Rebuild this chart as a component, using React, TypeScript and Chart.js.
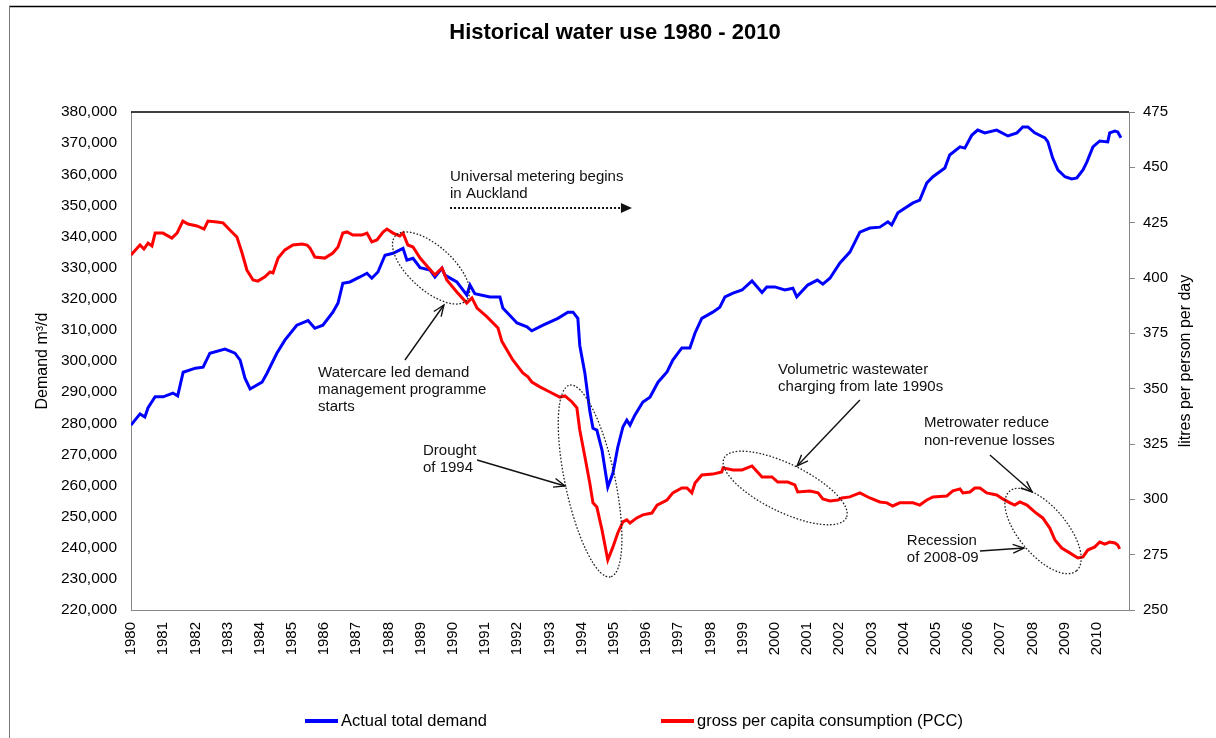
import React, { useEffect, useRef } from 'react';
import { Chart, registerables } from 'chart.js';

Chart.register(...registerables);

const FONT = '"Liberation Sans", Arial, Helvetica, sans-serif';

// ---- data ----
const xTickLabels = [
  '1980', '1981', '1982', '1983', '1984', '1985', '1986', '1987', '1988', '1989',
  '1990', '1991', '1992', '1993', '1994', '1995', '1996', '1997', '1998', '1999',
  '2000', '2001', '2002', '2003', '2004', '2005', '2006', '2007', '2008', '2009', '2010',
];

const demandYears = [
  1980.00, 1980.28, 1980.43, 1980.53, 1980.75, 1981.00, 1981.30, 1981.45, 1981.62, 1982.00,
  1982.24, 1982.45, 1982.92, 1983.23, 1983.39, 1983.54, 1983.70, 1984.07, 1984.22, 1984.53,
  1984.78, 1985.15, 1985.50, 1985.71, 1985.96, 1986.27, 1986.43, 1986.58, 1986.80, 1987.11,
  1987.33, 1987.48, 1987.67, 1987.89, 1988.14, 1988.45, 1988.57, 1988.76, 1988.98, 1989.29,
  1989.44, 1989.66, 1989.75, 1990.12, 1990.43, 1990.53, 1990.68, 1991.15, 1991.46, 1991.55,
  1991.99, 1992.30, 1992.45, 1992.80, 1993.26, 1993.57, 1993.73, 1993.88, 1993.94, 1994.10,
  1994.25, 1994.35, 1994.47, 1994.63, 1994.81, 1994.97, 1995.12, 1995.28, 1995.40, 1995.50,
  1995.65, 1995.90, 1996.12, 1996.37, 1996.65, 1996.83, 1997.11, 1997.36, 1997.52, 1997.73,
  1998.07, 1998.29, 1998.45, 1998.70, 1998.98, 1999.29, 1999.60, 1999.75, 2000.00, 2000.31,
  2000.56, 2000.68, 2001.02, 2001.32, 2001.49, 2001.71, 2002.02, 2002.33, 2002.64, 2002.95,
  2003.26, 2003.51, 2003.63, 2003.82, 2004.29, 2004.50, 2004.72, 2004.91, 2005.28, 2005.43,
  2005.75, 2005.90, 2006.12, 2006.30, 2006.52, 2006.89, 2007.24, 2007.52, 2007.70, 2007.86,
  2008.07, 2008.39, 2008.48, 2008.63, 2008.79, 2009.01, 2009.22, 2009.38, 2009.57, 2009.69,
  2009.88, 2010.09, 2010.34, 2010.40, 2010.56, 2010.65, 2010.75,
];

const demandValues = [
  279400, 283000, 282000, 285000, 288500, 288500, 289700, 288800, 296400, 297700,
  298000, 302500, 303800, 302500, 300300, 294500, 291000, 293200, 296000, 302500,
  306700, 311500, 313000, 310500, 311500, 315700, 318600, 325000, 325400, 327000,
  328200, 326600, 328600, 334000, 334600, 336200, 332400, 333000, 330000, 329200,
  327000, 329800, 327600, 325400, 321200, 324400, 321600, 320600, 320600, 317000,
  312200, 311000, 309700, 311500, 313700, 315700, 315700, 313700, 305000, 296000,
  284000, 278400, 277800, 271400, 259500, 264000, 272300, 278800, 281000, 279400,
  282600, 286800, 288400, 293200, 296500, 300300, 304200, 304200, 309000, 313700,
  315700, 317300, 320600, 321800, 322800, 325700, 322000, 323800, 323800, 322800,
  323400, 320600, 324400, 326000, 324700, 326600, 331500, 335000, 341400, 342700,
  343000, 344700, 343700, 347600, 350800, 351700, 357200, 359200, 362000, 366200,
  368800, 368400, 372600, 374200, 373300, 374200, 372300, 373300, 375200, 375200,
  373300, 371700, 370400, 365200, 361400, 359200, 358500, 358800, 361400, 363900,
  368800, 370700, 370400, 373300, 373900, 373600, 371700,
];

const pccYears = [
  1980.00, 1980.28, 1980.40, 1980.53, 1980.65, 1980.75, 1980.99, 1981.27, 1981.43, 1981.61,
  1981.77, 1982.05, 1982.27, 1982.39, 1982.67, 1982.86, 1983.07, 1983.29, 1983.45, 1983.60,
  1983.79, 1983.94, 1984.16, 1984.32, 1984.41, 1984.57, 1984.78, 1985.03, 1985.31, 1985.47,
  1985.56, 1985.71, 1986.02, 1986.27, 1986.43, 1986.58, 1986.71, 1986.89, 1987.17, 1987.33,
  1987.48, 1987.64, 1987.83, 1987.95, 1988.14, 1988.35, 1988.45, 1988.60, 1988.76, 1988.98,
  1989.22, 1989.44, 1989.66, 1989.81, 1990.12, 1990.43, 1990.59, 1990.75, 1991.06, 1991.40,
  1991.52, 1991.86, 1992.17, 1992.33, 1992.45, 1992.70, 1993.01, 1993.32, 1993.48, 1993.70,
  1993.85, 1993.94, 1994.10, 1994.25, 1994.35, 1994.47, 1994.63, 1994.81, 1994.97, 1995.12,
  1995.28, 1995.40, 1995.50, 1995.71, 1995.90, 1996.18, 1996.34, 1996.65, 1996.83, 1997.11,
  1997.27, 1997.42, 1997.52, 1997.73, 1998.07, 1998.35, 1998.39, 1998.70, 1998.98, 1999.29,
  1999.60, 1999.91, 2000.09, 2000.40, 2000.62, 2000.71, 2001.09, 2001.34, 2001.49, 2001.71,
  2001.96, 2002.08, 2002.33, 2002.64, 2002.95, 2003.26, 2003.48, 2003.66, 2003.88, 2004.29,
  2004.50, 2004.72, 2004.91, 2005.34, 2005.53, 2005.75, 2005.84, 2006.06, 2006.21, 2006.37,
  2006.58, 2006.89, 2007.08, 2007.30, 2007.45, 2007.61, 2007.83, 2008.07, 2008.32, 2008.54,
  2008.70, 2008.91, 2009.16, 2009.41, 2009.57, 2009.72, 2009.94, 2010.09, 2010.25, 2010.40,
  2010.56, 2010.65, 2010.71,
];

const pccValues = [
  410.4, 414.9, 413.1, 415.8, 414.5, 420.3, 420.3, 418.0, 420.3, 425.7,
  424.4, 423.5, 422.1, 425.7, 425.3, 424.9, 421.7, 418.5, 411.3, 403.6,
  399.1, 398.6, 400.5, 402.7, 402.3, 409.0, 412.7, 414.9, 415.4, 414.9,
  413.5, 409.5, 409.0, 411.3, 414.0, 420.3, 420.8, 419.4, 419.4, 420.3,
  416.3, 417.2, 420.8, 422.1, 420.3, 419.0, 420.3, 414.9, 414.0, 409.0,
  405.0, 401.4, 404.5, 399.1, 393.7, 388.7, 391.0, 386.4, 382.4, 377.4,
  371.4, 363.0, 357.1, 355.3, 353.0, 350.8, 348.5, 346.2, 346.7, 344.0,
  341.3, 331.3, 319.1, 307.4, 298.4, 296.5, 286.2, 272.6, 278.5, 284.8,
  289.8, 290.7, 289.3, 291.6, 293.0, 293.8, 297.4, 299.7, 302.9, 305.1,
  305.1, 302.9, 307.4, 311.0, 311.4, 312.4, 314.2, 313.3, 313.3, 315.1,
  310.1, 310.1, 307.8, 307.8, 306.5, 303.3, 303.8, 302.9, 300.2, 299.3,
  299.7, 300.6, 301.1, 302.9, 300.6, 298.8, 298.4, 297.0, 298.4, 298.4,
  297.4, 299.7, 301.1, 301.5, 303.8, 304.7, 302.9, 303.3, 305.1, 305.1,
  302.9, 302.0, 300.2, 298.4, 297.4, 298.8, 297.4, 294.3, 291.6, 287.0,
  281.6, 278.0, 275.8, 273.5, 274.0, 277.1, 278.5, 280.7, 279.8, 280.7,
  280.3, 279.4, 277.6,
];

const seriesLabels = ['Actual total demand', 'gross per capita consumption (PCC)'];
const seriesColors = ['#0000FF', '#FF0000'];

// ---- annotations (anchored in [year, demand m3/d] data coordinates) ----
const noteTexts = [
  { lines: ['Universal metering begins', 'in Auckland'], at: [1989.91, 359100], gap: 17 },
  { lines: ['Watercare led demand', 'management programme', 'starts'], at: [1985.81, 296140], gap: 17 },
  { lines: ['Drought', 'of 1994'], at: [1989.07, 271080], gap: 16.5 },
  { lines: ['Volumetric wastewater', 'charging from late 1990s'], at: [2000.1, 297110], gap: 16.5 },
  { lines: ['Metrowater reduce', 'non-revenue losses'], at: [2004.63, 280080], gap: 18 },
  { lines: ['Recession', 'of 2008-09'], at: [2004.1, 242170], gap: 16.5 },
];
const noteEllipses = [
  { at: [1989.32, 329880], rx: 48, ry: 22, angle: 42 },
  { at: [1994.26, 261440], rx: 98, ry: 25, angle: 78 },
  { at: [2000.32, 259200], rx: 68, ry: 24, angle: 26 },
  { at: [2008.33, 245380], rx: 52, ry: 24, angle: 50 },
];
const noteArrows = [
  { from: [1988.51, 300320], to: [1989.72, 317990] },
  { from: [1990.75, 268190], to: [1993.48, 259840] },
  { from: [2002.64, 287470], to: [2000.69, 266270] },
  { from: [2006.68, 269800], to: [2007.99, 257910] },
  { from: [2006.37, 238960], to: [2007.74, 239910] },
];
const meteringArrow = { from: [1989.91, 349160], to: [1995.56, 349160] };

const fmtThousands = (v: number) => String(Math.round(v)).replace(/\B(?=(\d{3})+(?!\d))/g, ',');

const decorPlugin = {
  id: 'decor',
  beforeDraw(chart: any) {
    const { ctx, width, height } = chart;
    ctx.save();
    ctx.fillStyle = '#ffffff';
    ctx.fillRect(0, 0, width, height);
    ctx.strokeStyle = '#000';
    ctx.lineWidth = 1.5;
    ctx.beginPath();
    ctx.moveTo(9, 6.5);
    ctx.lineTo(width, 6.5);
    ctx.stroke();
    ctx.strokeStyle = '#777';
    ctx.lineWidth = 1;
    ctx.beginPath();
    ctx.moveTo(9.5, 6);
    ctx.lineTo(9.5, height);
    ctx.stroke();
    ctx.restore();
  },
  afterDraw(chart: any) {
    const { ctx, chartArea } = chart;
    const xs = chart.scales.x;
    const ys = chart.scales.y;
    const P = (p: number[]) => [xs.getPixelForValue(p[0]), ys.getPixelForValue(p[1])];
    ctx.save();

    // top border of plot area
    ctx.strokeStyle = '#000';
    ctx.lineWidth = 1.5;
    ctx.beginPath();
    ctx.moveTo(chartArea.left, chartArea.top);
    ctx.lineTo(chartArea.right, chartArea.top);
    ctx.stroke();

    // title
    ctx.fillStyle = '#000';
    ctx.font = `bold 22px ${FONT}`;
    ctx.textAlign = 'center';
    ctx.textBaseline = 'middle';
    ctx.fillText('Historical water use 1980 - 2010', 615, 33);

    // axis titles
    const midY = (chartArea.top + chartArea.bottom) / 2;
    ctx.font = `16px ${FONT}`;
    ctx.save();
    ctx.translate(43, midY);
    ctx.rotate(-Math.PI / 2);
    ctx.fillText('Demand m³/d', 0, 0);
    ctx.restore();
    ctx.save();
    ctx.translate(1186, midY);
    ctx.rotate(-Math.PI / 2);
    ctx.fillText('litres per person per day', 0, 0);
    ctx.restore();

    // legend
    const legendStarts = [305, 661];
    const legendY = 721;
    ctx.font = `16.5px ${FONT}`;
    ctx.textAlign = 'left';
    chart.data.datasets.forEach((ds: any, i: number) => {
      const x0 = legendStarts[i];
      ctx.strokeStyle = ds.borderColor;
      ctx.lineWidth = 4;
      ctx.beginPath();
      ctx.moveTo(x0, legendY);
      ctx.lineTo(x0 + 33, legendY);
      ctx.stroke();
      ctx.fillStyle = '#000';
      ctx.fillText(ds.label, x0 + 36, legendY);
    });

    // annotation texts
    ctx.font = `15px ${FONT}`;
    ctx.fillStyle = '#111';
    ctx.textAlign = 'left';
    ctx.textBaseline = 'middle';
    noteTexts.forEach((n) => {
      const [x, y] = P(n.at);
      n.lines.forEach((line, i) => ctx.fillText(line, x, y + i * n.gap));
    });

    // dotted ellipses
    ctx.strokeStyle = '#222';
    ctx.lineWidth = 1.3;
    ctx.setLineDash([1.6, 1.8]);
    noteEllipses.forEach((e) => {
      const [x, y] = P(e.at);
      ctx.beginPath();
      ctx.ellipse(x, y, e.rx, e.ry, (e.angle * Math.PI) / 180, 0, Math.PI * 2);
      ctx.stroke();
    });

    // metering dotted arrow
    {
      const [x1, y1] = P(meteringArrow.from);
      const [x2, y2] = P(meteringArrow.to);
      ctx.lineWidth = 2;
      ctx.setLineDash([2, 2]);
      ctx.strokeStyle = '#111';
      ctx.beginPath();
      ctx.moveTo(x1, y1);
      ctx.lineTo(x2 - 8, y2);
      ctx.stroke();
      ctx.setLineDash([]);
      ctx.fillStyle = '#111';
      ctx.beginPath();
      ctx.moveTo(x2, y2);
      ctx.lineTo(x2 - 11, y2 - 5);
      ctx.lineTo(x2 - 11, y2 + 5);
      ctx.closePath();
      ctx.fill();
    }

    // solid arrows with open heads
    ctx.setLineDash([]);
    ctx.strokeStyle = '#111';
    ctx.lineWidth = 1.4;
    noteArrows.forEach((a) => {
      const [x1, y1] = P(a.from);
      const [x2, y2] = P(a.to);
      ctx.beginPath();
      ctx.moveTo(x1, y1);
      ctx.lineTo(x2, y2);
      ctx.stroke();
      const ang = Math.atan2(y2 - y1, x2 - x1);
      const len = 12;
      const spread = 0.38;
      ctx.beginPath();
      ctx.moveTo(x2 - len * Math.cos(ang - spread), y2 - len * Math.sin(ang - spread));
      ctx.lineTo(x2, y2);
      ctx.lineTo(x2 - len * Math.cos(ang + spread), y2 - len * Math.sin(ang + spread));
      ctx.stroke();
    });

    ctx.restore();
  },
};

export default function App() {
  const ref = useRef<HTMLCanvasElement>(null);

  useEffect(() => {
    const canvas = ref.current;
    if (!canvas) return;
    const chart = new Chart(canvas, {
      type: 'line',
      data: {
        datasets: [
          {
            label: seriesLabels[0],
            data: demandYears.map((x, i) => ({ x, y: demandValues[i] })),
            borderColor: seriesColors[0],
            backgroundColor: seriesColors[0],
            borderWidth: 3,
            pointRadius: 0,
            tension: 0,
            yAxisID: 'y',
            order: 2,
          },
          {
            label: seriesLabels[1],
            data: pccYears.map((x, i) => ({ x, y: pccValues[i] })),
            borderColor: seriesColors[1],
            backgroundColor: seriesColors[1],
            borderWidth: 3,
            pointRadius: 0,
            tension: 0,
            yAxisID: 'y1',
            order: 1,
          },
        ],
      },
      options: {
        responsive: false,
        animation: false,
        events: [],
        devicePixelRatio: 1,
        layout: { padding: { top: 112, left: 0, right: 0, bottom: 0 } },
        plugins: {
          legend: { display: false },
          title: { display: false },
          tooltip: { enabled: false },
        },
        scales: {
          x: {
            type: 'linear',
            min: 1980,
            max: 2011,
            grid: { display: false, drawTicks: false },
            border: { display: true, color: '#868686', width: 1 },
            ticks: {
              stepSize: 1,
              autoSkip: false,
              minRotation: 90,
              maxRotation: 90,
              padding: 12,
              color: '#000',
              font: { family: FONT, size: 15 },
              callback: (v: any) => (xTickLabels.includes(String(v)) ? String(v) : ''),
            },
            afterFit: (s: any) => {
              s.height = 128;
            },
          },
          y: {
            type: 'linear',
            position: 'left',
            min: 220000,
            max: 380000,
            grid: { display: false, drawTicks: false },
            border: { display: true, color: '#868686', width: 1 },
            ticks: {
              stepSize: 10000,
              padding: 14,
              color: '#000',
              font: { family: FONT, size: 15.5 },
              callback: (v: any) => fmtThousands(Number(v)),
            },
            afterFit: (s: any) => {
              s.width = 131;
            },
          },
          y1: {
            type: 'linear',
            position: 'right',
            min: 250,
            max: 475,
            grid: { display: true, drawOnChartArea: false, drawTicks: true, tickLength: 6, color: '#868686' },
            border: { display: true, color: '#868686', width: 1 },
            ticks: {
              stepSize: 25,
              padding: 8,
              color: '#000',
              font: { family: FONT, size: 15 },
            },
            afterFit: (s: any) => {
              s.width = 87;
            },
          },
        },
      } as any,
      plugins: [decorPlugin],
    });
    return () => chart.destroy();
  }, []);

  return (
    <div style={{ position: 'absolute', left: 0, top: 0, width: 1216, height: 738, background: '#fff' }}>
      <canvas ref={ref} width={1216} height={738} style={{ display: 'block' }} />
    </div>
  );
}
